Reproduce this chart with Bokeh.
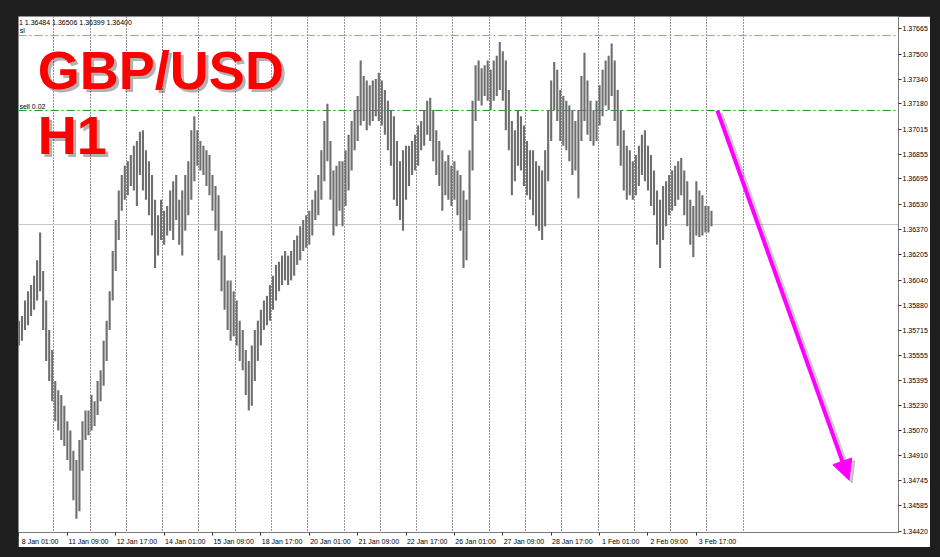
from bokeh.plotting import figure
from bokeh.models import (FixedTicker, PrintfTickFormatter, Label, Arrow, NormalHead,
                          Range1d, ColumnDataSource)
from bokeh.embed import file_html
from bokeh.resources import INLINE

# ---------------- data (GBP/USD, 2-hour sampled H1 bars) ----------------
bar_hours = list(range(0, 460, 2))
highs = [
    1.3578, 1.3581, 1.3591, 1.3597, 1.3601, 1.3607, 1.3617, 1.3635, 1.3610, 1.3591,
    1.3572, 1.3559, 1.3539, 1.3533, 1.3530, 1.3523, 1.3513, 1.3507, 1.3494, 1.3488,
    1.3501, 1.3513, 1.3520, 1.3520, 1.3530, 1.3526, 1.3539, 1.3546, 1.3565, 1.3578,
    1.3597, 1.3623, 1.3643, 1.3662, 1.3672, 1.3678, 1.3681, 1.3685, 1.3691, 1.3694,
    1.3700, 1.3701, 1.3688, 1.3681, 1.3672, 1.3656, 1.3646, 1.3656, 1.3649, 1.3652,
    1.3662, 1.3668, 1.3672, 1.3656, 1.3662, 1.3672, 1.3681, 1.3701, 1.3710, 1.3701,
    1.3694, 1.3691, 1.3688, 1.3685, 1.3672, 1.3665, 1.3659, 1.3636, 1.3620, 1.3604,
    1.3604, 1.3597, 1.3591, 1.3578, 1.3572, 1.3559, 1.3552, 1.3562, 1.3572,
    1.3578, 1.3585, 1.3591, 1.3594, 1.3601, 1.3607, 1.3614, 1.3616, 1.3620, 1.3623,
    1.3620, 1.3623, 1.3630, 1.3633, 1.3639, 1.3643, 1.3646, 1.3649, 1.3656, 1.3662,
    1.3672, 1.3688, 1.3707, 1.3718, 1.3694, 1.3675, 1.3678, 1.3681, 1.3681, 1.3688,
    1.3698, 1.3707, 1.3714, 1.3723, 1.3746, 1.3736, 1.3733, 1.3730, 1.3733, 1.3734,
    1.3738, 1.3733, 1.3727, 1.3720, 1.3714, 1.3710, 1.3694, 1.3681, 1.3688, 1.3691,
    1.3691, 1.3694, 1.3698, 1.3704, 1.3707, 1.3714, 1.3720, 1.3722, 1.3714, 1.3701,
    1.3694, 1.3688, 1.3681, 1.3685, 1.3678, 1.3681, 1.3675, 1.3672, 1.3662,
    1.3656, 1.3688, 1.3720, 1.3743, 1.3746, 1.3741, 1.3743, 1.3746, 1.3740, 1.3746,
    1.3749, 1.3758, 1.3752, 1.3746, 1.3727, 1.3707, 1.3701, 1.3714, 1.3710, 1.3704,
    1.3694, 1.3688, 1.3688, 1.3681, 1.3678, 1.3675, 1.3688, 1.3714, 1.3733, 1.3745,
    1.3740, 1.3727, 1.3723, 1.3720, 1.3717, 1.3714, 1.3707, 1.3714, 1.3736, 1.3751,
    1.3733, 1.3720, 1.3714, 1.3720, 1.3730, 1.3740, 1.3746, 1.3749, 1.3757, 1.3746,
    1.3727, 1.3714, 1.3701, 1.3691, 1.3688, 1.3681, 1.3685, 1.3691, 1.3698, 1.3701,
    1.3691, 1.3685, 1.3675, 1.3662, 1.3656, 1.3665, 1.3668, 1.3672, 1.3675, 1.3678,
    1.3681, 1.3683, 1.3675, 1.3668, 1.3656, 1.3652, 1.3668, 1.3662, 1.3659, 1.3652, 1.3652, 1.3649,
]
lows = [
    1.3562, 1.3565, 1.3572, 1.3575, 1.3581, 1.3585, 1.3591, 1.3597, 1.3572, 1.3552,
    1.3539, 1.3526, 1.3513, 1.3507, 1.3501, 1.3497, 1.3488, 1.3481, 1.3462, 1.3450,
    1.3455, 1.3481, 1.3501, 1.3504, 1.3507, 1.3510, 1.3517, 1.3526, 1.3536, 1.3552,
    1.3572, 1.3591, 1.3610, 1.3630, 1.3649, 1.3656, 1.3659, 1.3665, 1.3662, 1.3652,
    1.3672, 1.3662, 1.3656, 1.3646, 1.3633, 1.3612, 1.3620, 1.3630, 1.3627, 1.3633,
    1.3636, 1.3630, 1.3643, 1.3627, 1.3620, 1.3636, 1.3646, 1.3656, 1.3668, 1.3678,
    1.3675, 1.3672, 1.3665, 1.3659, 1.3649, 1.3636, 1.3617, 1.3597, 1.3585, 1.3572,
    1.3565, 1.3568, 1.3562, 1.3552, 1.3546, 1.3530, 1.3520, 1.3523, 1.3539,
    1.3552, 1.3562, 1.3572, 1.3575, 1.3578, 1.3585, 1.3591, 1.3597, 1.3601, 1.3604,
    1.3601, 1.3604, 1.3607, 1.3614, 1.3617, 1.3623, 1.3625, 1.3627, 1.3633, 1.3643,
    1.3646, 1.3656, 1.3668, 1.3681, 1.3656, 1.3633, 1.3639, 1.3649, 1.3639, 1.3652,
    1.3662, 1.3675, 1.3688, 1.3694, 1.3704, 1.3707, 1.3701, 1.3704, 1.3707, 1.3710,
    1.3707, 1.3704, 1.3698, 1.3688, 1.3678, 1.3656, 1.3652, 1.3643, 1.3636, 1.3656,
    1.3665, 1.3672, 1.3675, 1.3678, 1.3688, 1.3691, 1.3698, 1.3694, 1.3681, 1.3672,
    1.3665, 1.3649, 1.3659, 1.3656, 1.3652, 1.3656, 1.3646, 1.3636, 1.3612,
    1.3617, 1.3643, 1.3675, 1.3707, 1.3720, 1.3717, 1.3723, 1.3720, 1.3714, 1.3720,
    1.3723, 1.3727, 1.3720, 1.3701, 1.3688, 1.3659, 1.3668, 1.3678, 1.3675, 1.3665,
    1.3659, 1.3656, 1.3646, 1.3639, 1.3636, 1.3630, 1.3639, 1.3668, 1.3694, 1.3714,
    1.3707, 1.3694, 1.3691, 1.3688, 1.3681, 1.3672, 1.3675, 1.3657, 1.3694, 1.3707,
    1.3698, 1.3694, 1.3691, 1.3694, 1.3704, 1.3710, 1.3717, 1.3714, 1.3723, 1.3707,
    1.3691, 1.3678, 1.3662, 1.3656, 1.3659, 1.3656, 1.3659, 1.3665, 1.3672, 1.3668,
    1.3662, 1.3652, 1.3646, 1.3627, 1.3612, 1.3630, 1.3639, 1.3646, 1.3649, 1.3652,
    1.3656, 1.3659, 1.3646, 1.3639, 1.3627, 1.3619, 1.3633, 1.3632, 1.3633, 1.3635, 1.3635, 1.3639,
]

y_ticks = [1.37665, 1.37500, 1.37340, 1.37180, 1.37015, 1.36855, 1.36695, 1.36530,
           1.36370, 1.36205, 1.36040, 1.35880, 1.35715, 1.35555, 1.35395, 1.35230,
           1.35070, 1.34910, 1.34745, 1.34585, 1.34420]
x_tick_hours = [0, 32, 64, 96, 128, 160, 192, 224, 256, 288, 320, 352, 384, 416, 448]
x_tick_labels = ["8 Jan 01:00", "11 Jan 09:00", "12 Jan 17:00", "14 Jan 01:00",
                 "15 Jan 09:00", "18 Jan 17:00", "20 Jan 01:00", "21 Jan 09:00",
                 "22 Jan 17:00", "26 Jan 01:00", "27 Jan 09:00", "28 Jan 17:00",
                 "1 Feb 01:00", "2 Feb 09:00", "3 Feb 17:00"]
day_start_hours = [23, 47, 71, 95, 119, 143, 167, 191, 215, 239, 263, 287, 311, 335,
                   359, 383, 407, 431, 455, 479]

sl_price = 1.37622
sell_price = 1.37137
last_price = 1.36400
header_text = "1  1.36484 1.36506 1.36399 1.36400"
arrow_hours = [461.9, 549.0]
arrow_prices = [1.37137, 1.34750]

# ---------------- figure ----------------
FONT = "Liberation Sans"
p = figure(width=912, height=531,
           x_range=Range1d(-0.3, 581.7), y_range=Range1d(1.34412, 1.37744),
           output_backend="svg", toolbar_location=None, y_axis_location="right",
           min_border_left=0, min_border_top=0, min_border_right=30, min_border_bottom=15)
p.background_fill_color = "white"
p.border_fill_color = "white"
p.outline_line_color = None
p.xgrid.visible = False
p.ygrid.visible = False

yax = p.yaxis[0]
yax.ticker = FixedTicker(ticks=y_ticks)
yax.formatter = PrintfTickFormatter(format="%.5f")
yax.major_tick_in = 0
yax.major_tick_out = 3
yax.minor_tick_in = 0
yax.minor_tick_out = 0
yax.major_label_standoff = 1
yax.major_label_text_font = FONT
yax.major_label_text_font_size = "7px"
yax.major_label_text_color = "black"
yax.axis_line_color = "#7a7a7a"
yax.major_tick_line_color = "#333333"

LABEL_SHIFT = 14
xax = p.xaxis[0]
xax.ticker = FixedTicker(ticks=[h + LABEL_SHIFT for h in x_tick_hours], minor_ticks=x_tick_hours)
xax.major_label_overrides = {h + LABEL_SHIFT: t for h, t in zip(x_tick_hours, x_tick_labels)}
xax.major_tick_in = 0
xax.major_tick_out = 0
xax.minor_tick_in = 0
xax.minor_tick_out = 3
xax.minor_tick_line_color = "#333333"
xax.major_label_standoff = 2
xax.major_label_text_font = FONT
xax.major_label_text_font_size = "7px"
xax.major_label_text_color = "black"
xax.axis_line_color = "#7a7a7a"

# grid / levels
p.vspan(x=day_start_hours, line_color="#2a2a2a", line_width=1, line_dash="1 2")
p.hspan(y=[last_price], line_color="#c8c8c8", line_width=1)
p.hspan(y=[sl_price], line_color="#ff7f3f", line_width=1.2, line_dash="8 3 2 3")
p.hspan(y=[sell_price], line_color="#1e9e1e", line_width=1, line_dash="8 3 2 3")

# bars
src = ColumnDataSource(dict(h=bar_hours, high=highs, low=lows))
p.segment(x0="h", y0="low", x1="h", y1="high", source=src, line_color="#6e6e6e", line_width=2.1)

# arrow with shadow
p.add_layout(Arrow(x_start=arrow_hours[0] + 2, y_start=arrow_prices[0] - 0.00018,
                   x_end=arrow_hours[1] + 2, y_end=arrow_prices[1] - 0.00018,
                   line_color="#555555", line_alpha=0.3, line_width=5,
                   end=NormalHead(size=20, fill_color="#555555", fill_alpha=0.3,
                                  line_color="#555555", line_alpha=0.3)))
p.add_layout(Arrow(x_start=arrow_hours[0], y_start=arrow_prices[0],
                   x_end=arrow_hours[1], y_end=arrow_prices[1],
                   line_color="#ff00ff", line_width=4,
                   end=NormalHead(size=20, fill_color="#ff00ff", line_color="#ff00ff")))

# big title texts with shadow
for txt, y in (("GBP/USD", 1.37202), ("H1", 1.36782)):
    p.add_layout(Label(x=12.5, y=y, text=txt, text_font=FONT, text_font_style="bold",
                       text_font_size="54px", text_color="#000000", text_alpha=0.3,
                       x_offset=3, y_offset=-3))
    p.add_layout(Label(x=12.5, y=y, text=txt, text_font=FONT, text_font_style="bold",
                       text_font_size="54px", text_color="#ff0000"))

# small texts
p.add_layout(Label(x=0, y=1.37706, text=header_text, text_font=FONT, text_font_size="7px",
                   text_color="black", text_baseline="middle"))
p.add_layout(Label(x=0.5, y=sl_price, text="sl", text_font=FONT, text_font_size="7px",
                   text_color="black", text_baseline="bottom", y_offset=1))
p.add_layout(Label(x=0.3, y=sell_price, text="sell 0.02", text_font=FONT, text_font_size="7px",
                   text_color="black", text_baseline="bottom", y_offset=1))
p.add_layout(Label(x=582.3, y=last_price, text="1.36400", text_font=FONT, text_font_size="7px",
                   text_color="white", text_baseline="middle", background_fill_color="black"))

page_style = ("<style>html{background:#1e1e1e !important;}"
              "body{background:#1e1e1e !important;margin:8px;padding:8px 0 0 10px;}</style>")
html = file_html(p, INLINE).replace("</head>", page_style + "</head>", 1)
open("out.html", "w").write(html)
